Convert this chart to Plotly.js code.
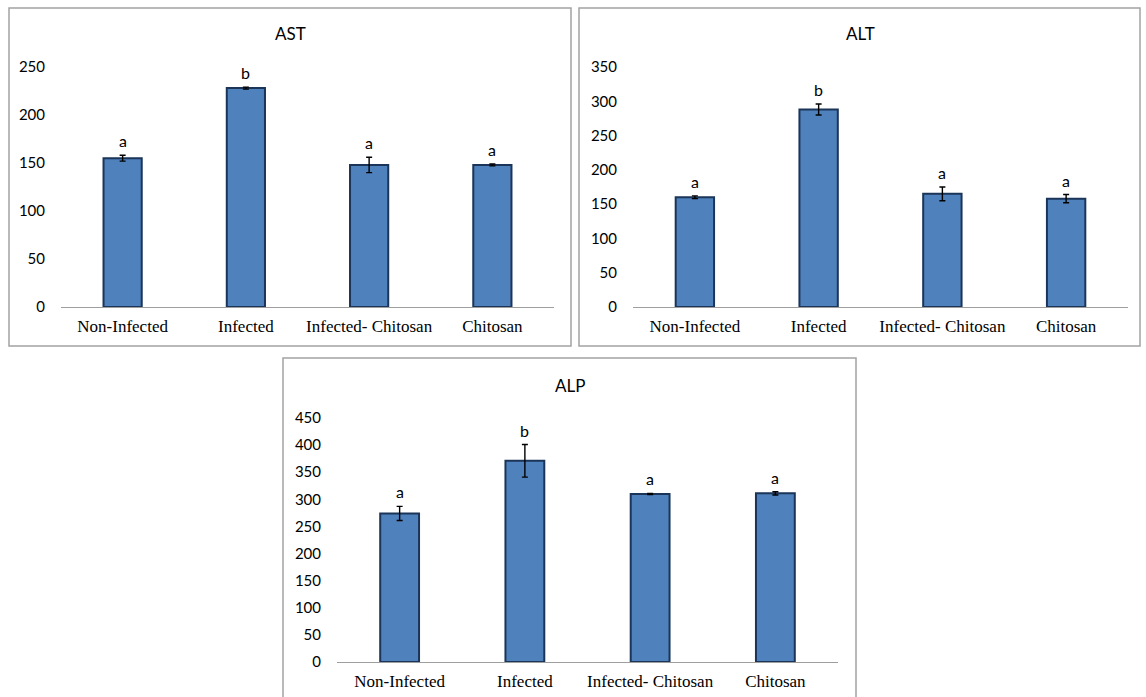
<!DOCTYPE html>
<html>
<head>
<meta charset="utf-8">
<script src="https://cdn.plot.ly/plotly-3.0.1.min.js"></script>
<style>
  html, body { margin: 0; padding: 0; background: #ffffff; }
  #chart { width: 1146px; height: 697px; }
</style>
</head>
<body>
<div id="chart"></div>
<script>
// Serum liver enzymes by treatment group (mean ± error)
const categories = ['Non-Infected', 'Infected', 'Infected- Chitosan', 'Chitosan'];

const astMean = [155, 228, 148, 148];
const astErr = [3, 1, 8, 1];
const astLetters = ['a', 'b', 'a', 'a'];

const altMean = [160, 288, 165, 158];
const altErr = [2, 8, 10, 6];
const altLetters = ['a', 'b', 'a', 'a'];

const alpMean = [274, 371, 310, 311];
const alpErr = [13, 30, 1, 3];
const alpLetters = ['a', 'b', 'a', 'a'];

const panelTitles = ['AST', 'ALT', 'ALP'];
const yMax = [250, 350, 450];

const W = 1146, H = 697;
const px = v => v / W;          // horizontal pixel -> paper fraction
const py = v => 1 - v / H;      // vertical pixel (from top) -> paper fraction

const barFill = '#4f81bd';
const barEdge = '#1b3559';
const tickFont = { family: 'Lato, "Open Sans", sans-serif', size: 15, color: '#000000' };
const catFont = { family: '"Liberation Serif", "DejaVu Serif", serif', size: 17, color: '#000000' };

const panels = [
  { mean: astMean, err: astErr, letters: astLetters, xa: 'x', ya: 'y',
    xd: [px(61), px(554)], yd: [py(307), py(67)], box: [9, 8, 571, 346], titleAt: [290, 33] },
  { mean: altMean, err: altErr, letters: altLetters, xa: 'x2', ya: 'y2',
    xd: [px(633), px(1128)], yd: [py(307), py(67)], box: [579, 8, 1140, 346], titleAt: [860, 33] },
  { mean: alpMean, err: alpErr, letters: alpLetters, xa: 'x3', ya: 'y3',
    xd: [px(337), px(838)], yd: [py(662), py(418)], box: [283, 358, 856, 699], titleAt: [570, 385] }
];

const traces = [];
const annotations = [];
const shapes = [];
const layout = {
  width: W, height: H, autosize: false,
  margin: { l: 0, r: 0, t: 0, b: 0 },
  paper_bgcolor: '#ffffff', plot_bgcolor: 'rgba(0,0,0,0)',
  showlegend: false, bargap: 0.69
};

panels.forEach((p, i) => {
  traces.push({
    type: 'bar', x: categories, y: p.mean,
    xaxis: p.xa, yaxis: p.ya, width: 0.31,
    marker: { color: barFill, line: { color: barEdge, width: 2 } },
    error_y: { type: 'data', array: p.err, visible: true, color: '#000000', thickness: 1.4, width: 3 },
    hoverinfo: 'x+y'
  });

  const xKey = 'xaxis' + (i === 0 ? '' : i + 1);
  const yKey = 'yaxis' + (i === 0 ? '' : i + 1);
  layout[xKey] = {
    domain: p.xd, anchor: p.ya, type: 'category',
    showline: true, linecolor: '#9e9e9e', linewidth: 1.3,
    showgrid: false, zeroline: false, ticks: '', layer: 'below traces',
    tickfont: catFont, ticklabelstandoff: 3, fixedrange: true
  };
  layout[yKey] = {
    domain: p.yd, anchor: p.xa, range: [0, yMax[i]], dtick: 50, tick0: 0,
    showline: false, showgrid: false, zeroline: false, ticks: '',
    tickfont: tickFont, ticklabelstandoff: 15, fixedrange: true
  };

  // significance letters sit on top of each error bar
  p.mean.forEach((m, k) => {
    annotations.push({
      xref: p.xa, yref: p.ya, x: categories[k], y: m + p.err[k],
      text: p.letters[k], showarrow: false, yanchor: 'bottom', yshift: 3,
      font: { family: 'Lato, "Open Sans", sans-serif', size: 16, color: '#000000' }
    });
  });

  annotations.push({
    xref: 'paper', yref: 'paper', x: px(p.titleAt[0]), y: py(p.titleAt[1]),
    text: panelTitles[i], showarrow: false, xanchor: 'center', yanchor: 'middle',
    font: { family: 'Lato, "Open Sans", sans-serif', size: 17, color: '#000000' }
  });

  shapes.push({
    type: 'rect', xref: 'paper', yref: 'paper', layer: 'below',
    x0: px(p.box[0]), x1: px(p.box[2]), y0: py(p.box[3]), y1: py(p.box[1]),
    line: { color: '#a3a3a3', width: 1.5 }, fillcolor: 'rgba(0,0,0,0)'
  });
});

layout.annotations = annotations;
layout.shapes = shapes;

Plotly.newPlot('chart', traces, layout, { displayModeBar: false, staticPlot: true });
</script>
</body>
</html>
